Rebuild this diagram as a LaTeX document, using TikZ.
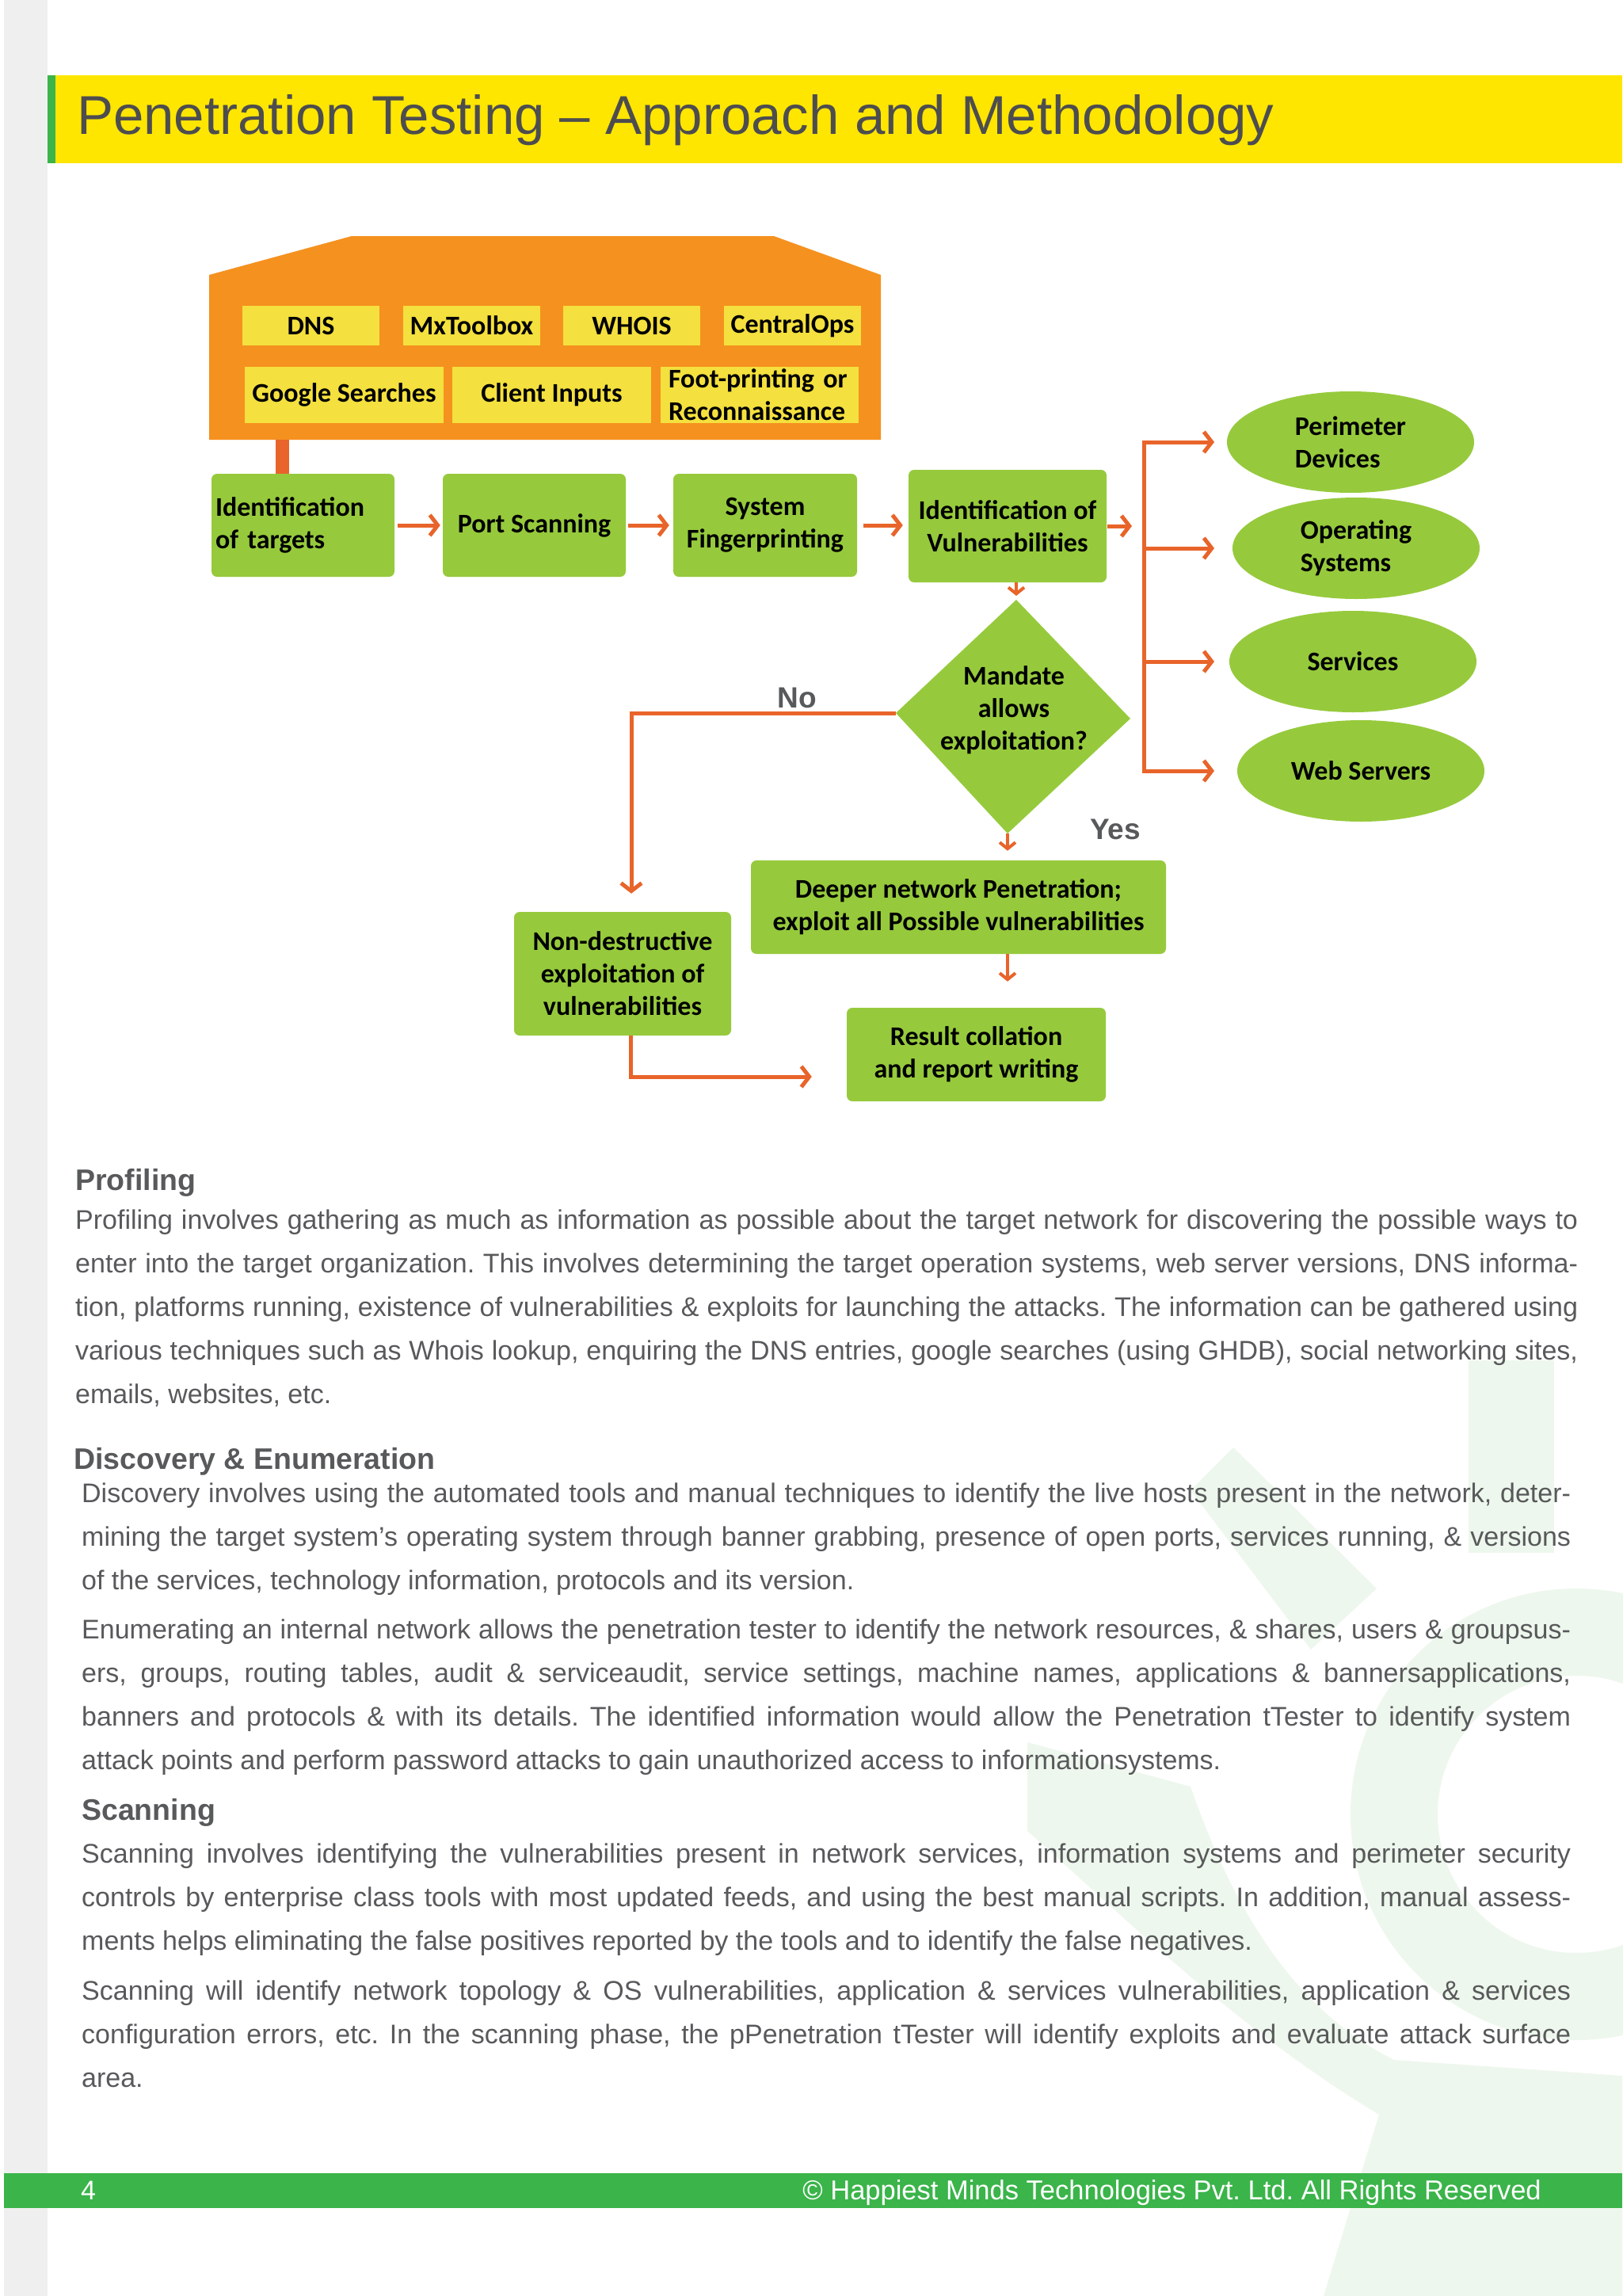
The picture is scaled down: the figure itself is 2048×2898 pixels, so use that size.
\documentclass[tikz,border=0pt]{standalone}
\usepackage{fontspec}
\setmainfont{Liberation Sans}
\newfontfamily\calibfont{Carlito}
\usetikzlibrary{arrows.meta,shapes.geometric}
\definecolor{titleyel}{HTML}{FFE600}
\definecolor{hmgreen}{HTML}{3BB44A}
\definecolor{stripgray}{HTML}{EFEFEF}
\definecolor{titlegray}{HTML}{4D4D4F}
\definecolor{bodygray}{HTML}{58595B}
\definecolor{boxgreen}{HTML}{96CA3C}
\definecolor{boxyellow}{HTML}{F4E03E}
\definecolor{contorange}{HTML}{F5911F}
\definecolor{arrowred}{HTML}{E8642A}
\definecolor{wmgreen}{HTML}{EEF7ED}
\tolerance=10000 \hbadness=10000 \hyphenpenalty=10000
\frenchspacing
\newcommand\diagfont{\calibfont\bfseries\fontsize{34}{41}\selectfont}
\newcommand\bodyfont{\fontsize{34}{55}\selectfont}
\newcommand\headfont{\bfseries\fontsize{37.5}{45}\selectfont}
\begin{document}
\begin{tikzpicture}[x=1pt,y=-1pt,
  gbox/.style={fill=boxgreen, rounded corners=7pt, inner sep=0pt, align=center, font=\diagfont, text=black},
  ybox/.style={fill=boxyellow, inner sep=0pt, align=center, font=\diagfont, text=black, minimum height=50pt, minimum width=173pt},
  ybox2/.style={ybox, minimum height=71pt, minimum width=251pt},
  oval/.style={ellipse, fill=boxgreen, inner sep=0pt, minimum width=312pt, minimum height=128pt, align=left, font=\diagfont, text=black},
  flow/.style={draw=arrowred, line width=5pt, -{Straight Barb[length=10pt,width=26pt]}},
  smallflow/.style={draw=arrowred, line width=4pt, -{Straight Barb[length=8pt,width=20pt]}},
  lbl/.style={font=\bfseries\fontsize{37}{44}\selectfont, text=bodygray, inner sep=0pt, anchor=base},
  head/.style={font=\headfont, text=bodygray, inner sep=0pt, anchor=base west},
  para/.style={font=\bodyfont, text=bodygray, inner sep=0pt, anchor=base west, align=justify}
]
\useasboundingbox (0,0) rectangle (2048,2898);
\fill[white] (0,0) rectangle (2048,2898);
\fill[stripgray] (5,0) rectangle (60,2898);

% watermark
\fill[wmgreen] (1854,1717) rectangle (1962,1960);
\fill[wmgreen] (1557,1827) -- (1738,2005) -- (1655,2082) -- (1503,1881) -- cycle;
\draw[wmgreen, line width=110pt] (1990,2290) circle (230);
\fill[wmgreen] (1297,2199) -- (1503,2255) .. controls (1560,2420) and (1640,2540) .. (1760,2600)
  -- (2048,2620) -- (2048,2898) -- (1671,2898) -- (1741,2669)
  .. controls (1560,2560) and (1420,2420) .. (1297,2311) -- cycle;

% title bar
\fill[titleyel] (60,95) rectangle (2048,206);
\fill[hmgreen] (60,95) rectangle (70,206);
\node[anchor=base west, inner sep=0pt, font=\fontsize{69}{80}\selectfont, text=titlegray] (title) at (97,170) {Penetration Testing – Approach and Methodology};

% container
\fill[contorange] (264,347) -- (444,298) -- (977,298) -- (1112,347) -- (1112,555) -- (264,555) -- cycle;
\node[ybox] (dns) at (392.5,411) {DNS};
\node[ybox] (mx) at (595.5,411) {MxToolbox};
\node[ybox] (whois) at (797.5,411) {WHOIS};
\node[ybox] (cops) at (1000.5,411) {CentralOps};
\node[ybox2] (google) at (434.5,498.5) {Google Searches};
\node[ybox2] (client) at (696.5,498.5) {Client Inputs};
\node[ybox2, minimum width=250pt, text width=230pt, align=left] (foot) at (959,498.5) {Foot-printing or\\Reconnaissance};

% main row
\node[gbox, minimum width=231pt, minimum height=130pt, text width=221pt, align=left] (idt) at (382.5,663) {Identification\\of targets};
\node[gbox, minimum width=231pt, minimum height=130pt] (ps) at (674.5,663) {Port Scanning};
\node[gbox, minimum width=232pt, minimum height=130pt] (sf) at (966,663) {System\\Fingerprinting};
\node[gbox, minimum width=250pt, minimum height=142pt] (iov) at (1272,664) {Identification of\\Vulnerabilities};

\coordinate (contfoot) at (356,555);
\draw[arrowred, line width=17pt] (contfoot) -- (contfoot |- idt.north);

% ellipses
\node[oval] (perim) at (1705,558) {Perimeter\\Devices};
\node[oval] (opsys) at (1712,692) {Operating\\Systems};
\node[oval] (serv) at (1708,835) {Services};
\node[oval] (web) at (1718,973) {Web Servers};

% diamond
\coordinate (dT) at (1283,757);
\coordinate (dR) at (1427,907);
\coordinate (dB) at (1272,1052);
\coordinate (dL) at (1131,900);
\fill[boxgreen] (dT) -- (dR) -- (dB) -- (dL) -- cycle;
\node[font=\diagfont, align=center, inner sep=0pt] (dtext) at (1280,896) {Mandate\\allows\\exploitation?};

% lower boxes
\node[gbox, minimum width=274pt, minimum height=156pt] (nond) at (786,1229) {Non-destructive\\exploitation of\\vulnerabilities};
\node[gbox, minimum width=524pt, minimum height=118pt] (deeper) at (1210,1145) {Deeper network Penetration;\\exploit all Possible vulnerabilities};
\node[gbox, minimum width=327pt, minimum height=118pt] (result) at (1232.5,1331) {Result collation\\and report writing};

% connectors
\draw[flow, shorten <=4pt, shorten >=3pt] (idt.east) -- (ps.west);
\draw[flow, shorten <=3pt, shorten >=5pt] (ps.east) -- (sf.west);
\draw[flow, shorten <=8pt, shorten >=7pt] (sf.east) -- (sf.east -| iov.west);
\coordinate (bx) at (1444,0);
\coordinate (ax) at (1533,0);
\draw[flow, shorten <=1pt, shorten >=15pt] (iov.east) -- (iov.east -| bx);
\draw[arrowred, line width=5pt, line cap=rect] (perim.west -| bx) -- (web.west -| bx);
\foreach \e in {perim,opsys,serv,web} \draw[flow] (\e.west -| bx) -- (\e.west -| ax);
\draw[smallflow, shorten >=5pt] (iov.south -| dT) -- (dT);
\draw[flow, shorten >=23pt] (dL) -| ([xshift=11pt]nond.north);
\node[lbl] (no) at (1006,893) {No};
\node[lbl] (yes) at (1408,1059) {Yes};
\draw[smallflow, shorten >=12pt] (dB) -- (dB |- deeper.north);
\draw[smallflow, shorten >=33pt] (deeper.south -| dB) -- (result.north -| dB);
\draw[flow, shorten >=44pt] ([xshift=10pt]nond.south) |- ([yshift=-28pt]result.west);

% text
\node[head] (h1) at (95,1502) {Profiling};
\node[para, text width=1897pt] (p1) at (95,1551) {Profiling involves gathering as much as information as possible about the target network for discovering the possible ways to\linebreak enter into the target organization. This involves determining the target operation systems, web server versions, DNS informa-\linebreak tion, platforms running, existence of vulnerabilities \& exploits for launching the attacks. The information can be gathered using\linebreak various techniques such as Whois lookup, enquiring the DNS entries, google searches (using GHDB), social networking sites,\linebreak emails, websites, etc.};
\node[head] (h2) at (93,1854) {Discovery \& Enumeration};
\node[para, text width=1880pt] (p2) at (103,1896) {Discovery involves using the automated tools and manual techniques to identify the live hosts present in the network, deter-\linebreak mining the target system’s operating system through banner grabbing, presence of open ports, services running, \& versions\linebreak of the services, technology information, protocols and its version.};
\node[para, text width=1880pt] (p3) at (103,2068) {Enumerating an internal network allows the penetration tester to identify the network resources, \& shares, users \& groupsus-\linebreak ers, groups, routing tables, audit \& serviceaudit, service settings, machine names, applications \& bannersapplications,\linebreak banners and protocols \& with its details. The identified information would allow the Penetration tTester to identify system\linebreak attack points and perform password attacks to gain unauthorized access to informationsystems.};
\node[head] (h3) at (103,2297) {Scanning};
\node[para, text width=1880pt] (p4) at (103,2351) {Scanning involves identifying the vulnerabilities present in network services, information systems and perimeter security\linebreak controls by enterprise class tools with most updated feeds, and using the best manual scripts. In addition, manual assess-\linebreak ments helps eliminating the false positives reported by the tools and to identify the false negatives.};
\node[para, text width=1880pt] (p5) at (103,2524) {Scanning will identify network topology \& OS vulnerabilities, application \& services vulnerabilities, application \& services\linebreak configuration errors, etc. In the scanning phase, the pPenetration tTester will identify exploits and evaluate attack surface\linebreak area.};

% footer
\fill[hmgreen] (5,2743) rectangle (2048,2787);
\node[anchor=base west, inner sep=0pt, font=\fontsize{34}{40}\selectfont, text=white] (pageno) at (102,2776) {4};
\node[anchor=base east, inner sep=0pt, font=\fontsize{34.5}{40}\selectfont, text=white] (copy) at (1946,2776) {© Happiest Minds Technologies Pvt. Ltd. All Rights Reserved};
\end{tikzpicture}
\end{document}
